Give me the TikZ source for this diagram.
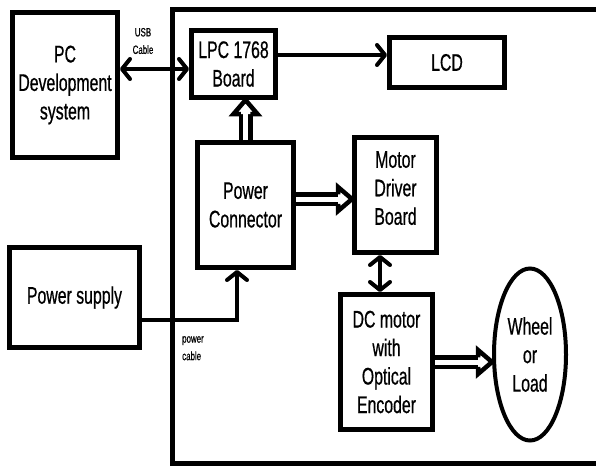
\documentclass[tikz,border=0pt]{standalone}
\usepackage{fontspec}
\setmainfont[FakeStretch=0.66,FakeBold=0.6]{Liberation Sans}
\usepackage{tikz}
\usetikzlibrary{calc,arrows.meta,positioning,shapes.geometric}
\newcommand{\HollowArrow}[2]{%
  \coordinate (hab) at ($(#2)!14pt!(#1)$);
  \draw[hollowshaft] (#1) -- (hab);
  \filldraw[hollowhead] ($(hab)!4.75pt!90:(#2)$) -- ($(hab)!12pt!90:(#2)$) -- (#2)
    -- ($(hab)!12pt!-90:(#2)$) -- ($(hab)!4.75pt!-90:(#2)$);}

\tikzset{
  blockbox/.style={draw,line width=5pt,align=center,inner sep=2pt,
    font=\fontsize{24}{28.5}\selectfont},
  smalltext/.style={align=left,inner sep=0pt,font=\fontsize{12}{17.5}\selectfont},
  barb/.style={line width=4pt,line cap=round,
    arrows={-Straight Barb[length=8pt,width=20pt,round]}},
  twobarb/.style={barb,arrows={Straight Barb[length=8pt,width=20pt,round]-Straight Barb[length=8pt,width=20pt,round]}},
  hollowshaft/.style={double=white,double distance=5pt,line width=4.5pt},
  hollowhead/.style={fill=white,draw=black,line width=4.5pt,line join=miter}
}

\begin{document}
\begin{tikzpicture}[x=1pt,y=-1pt]
\useasboundingbox (0,0) rectangle (596,467);

% outer frame (runs off the right edge)
\draw[line width=5pt] (600,9) -- (172,9) -- (172,463) -- (600,463);

% blocks
\node[blockbox,minimum width=105pt,minimum height=145pt] (pcdev) at (65,85) {PC\\Development\\system};
\node[blockbox,minimum width=84pt,minimum height=67pt] (lpc) at (233.5,64) {LPC 1768\\Board};
\node[blockbox,minimum width=115pt,minimum height=50pt] (lcd) at (447,62.5) {LCD};
\node[blockbox,minimum width=96pt,minimum height=125pt] (pwrconn) at (245.5,205) {Power\\Connector};
\node[blockbox,minimum width=82pt,minimum height=115pt] (motordrv) at (395.5,195) {Motor\\Driver\\Board\\[-14.5pt]};
\node[blockbox,minimum width=92pt,minimum height=135pt] (dcmotor) at (386.5,362) {DC motor\\with\\Optical\\Encoder};
\node[blockbox,ellipse,line width=4pt,inner sep=0pt,minimum width=72pt,minimum height=172pt] (wheel) at (530,354.5) {Wheel\\or\\Load};
\node[blockbox,minimum width=130pt,minimum height=100pt] (pwrsupply) at (74.5,297.5) {Power supply};

% labels
\node[smalltext,align=center] (usblbl) at (143,41) {USB\\Cable};
\node[smalltext,anchor=north west] (cablelbl) at (182,336) {power\\cable};

% thin connectors
\coordinate (usbR) at ([yshift=-5pt]lpc.west);
\draw[twobarb] (pcdev.east |- usbR) -- (usbR);
\coordinate (lcdin) at ([yshift=7.5pt]lcd.west);
\draw[barb] (lpc.east |- lcdin) -- (lcdin);
\coordinate (drvlink) at ([xshift=-6.5pt]dcmotor.north);
\draw[twobarb] (drvlink |- motordrv.south) -- (drvlink);
\coordinate (pcab) at ([yshift=-22.5pt]pwrsupply.east);
\draw[barb,line cap=butt] (pcab) -| ([xshift=-8.5pt]pwrconn.south);

% hollow arrows
\coordinate (upend) at (pwrconn.north |- lpc.south);
\HollowArrow{pwrconn.north}{upend}
\coordinate (drvin) at ([yshift=-4pt]motordrv.west);
\coordinate (drvout) at (pwrconn.east |- drvin);
\HollowArrow{drvout}{drvin}
\coordinate (wheelin) at (dcmotor.east -| wheel.west);
\HollowArrow{dcmotor.east}{wheelin}
\end{tikzpicture}
\end{document}
